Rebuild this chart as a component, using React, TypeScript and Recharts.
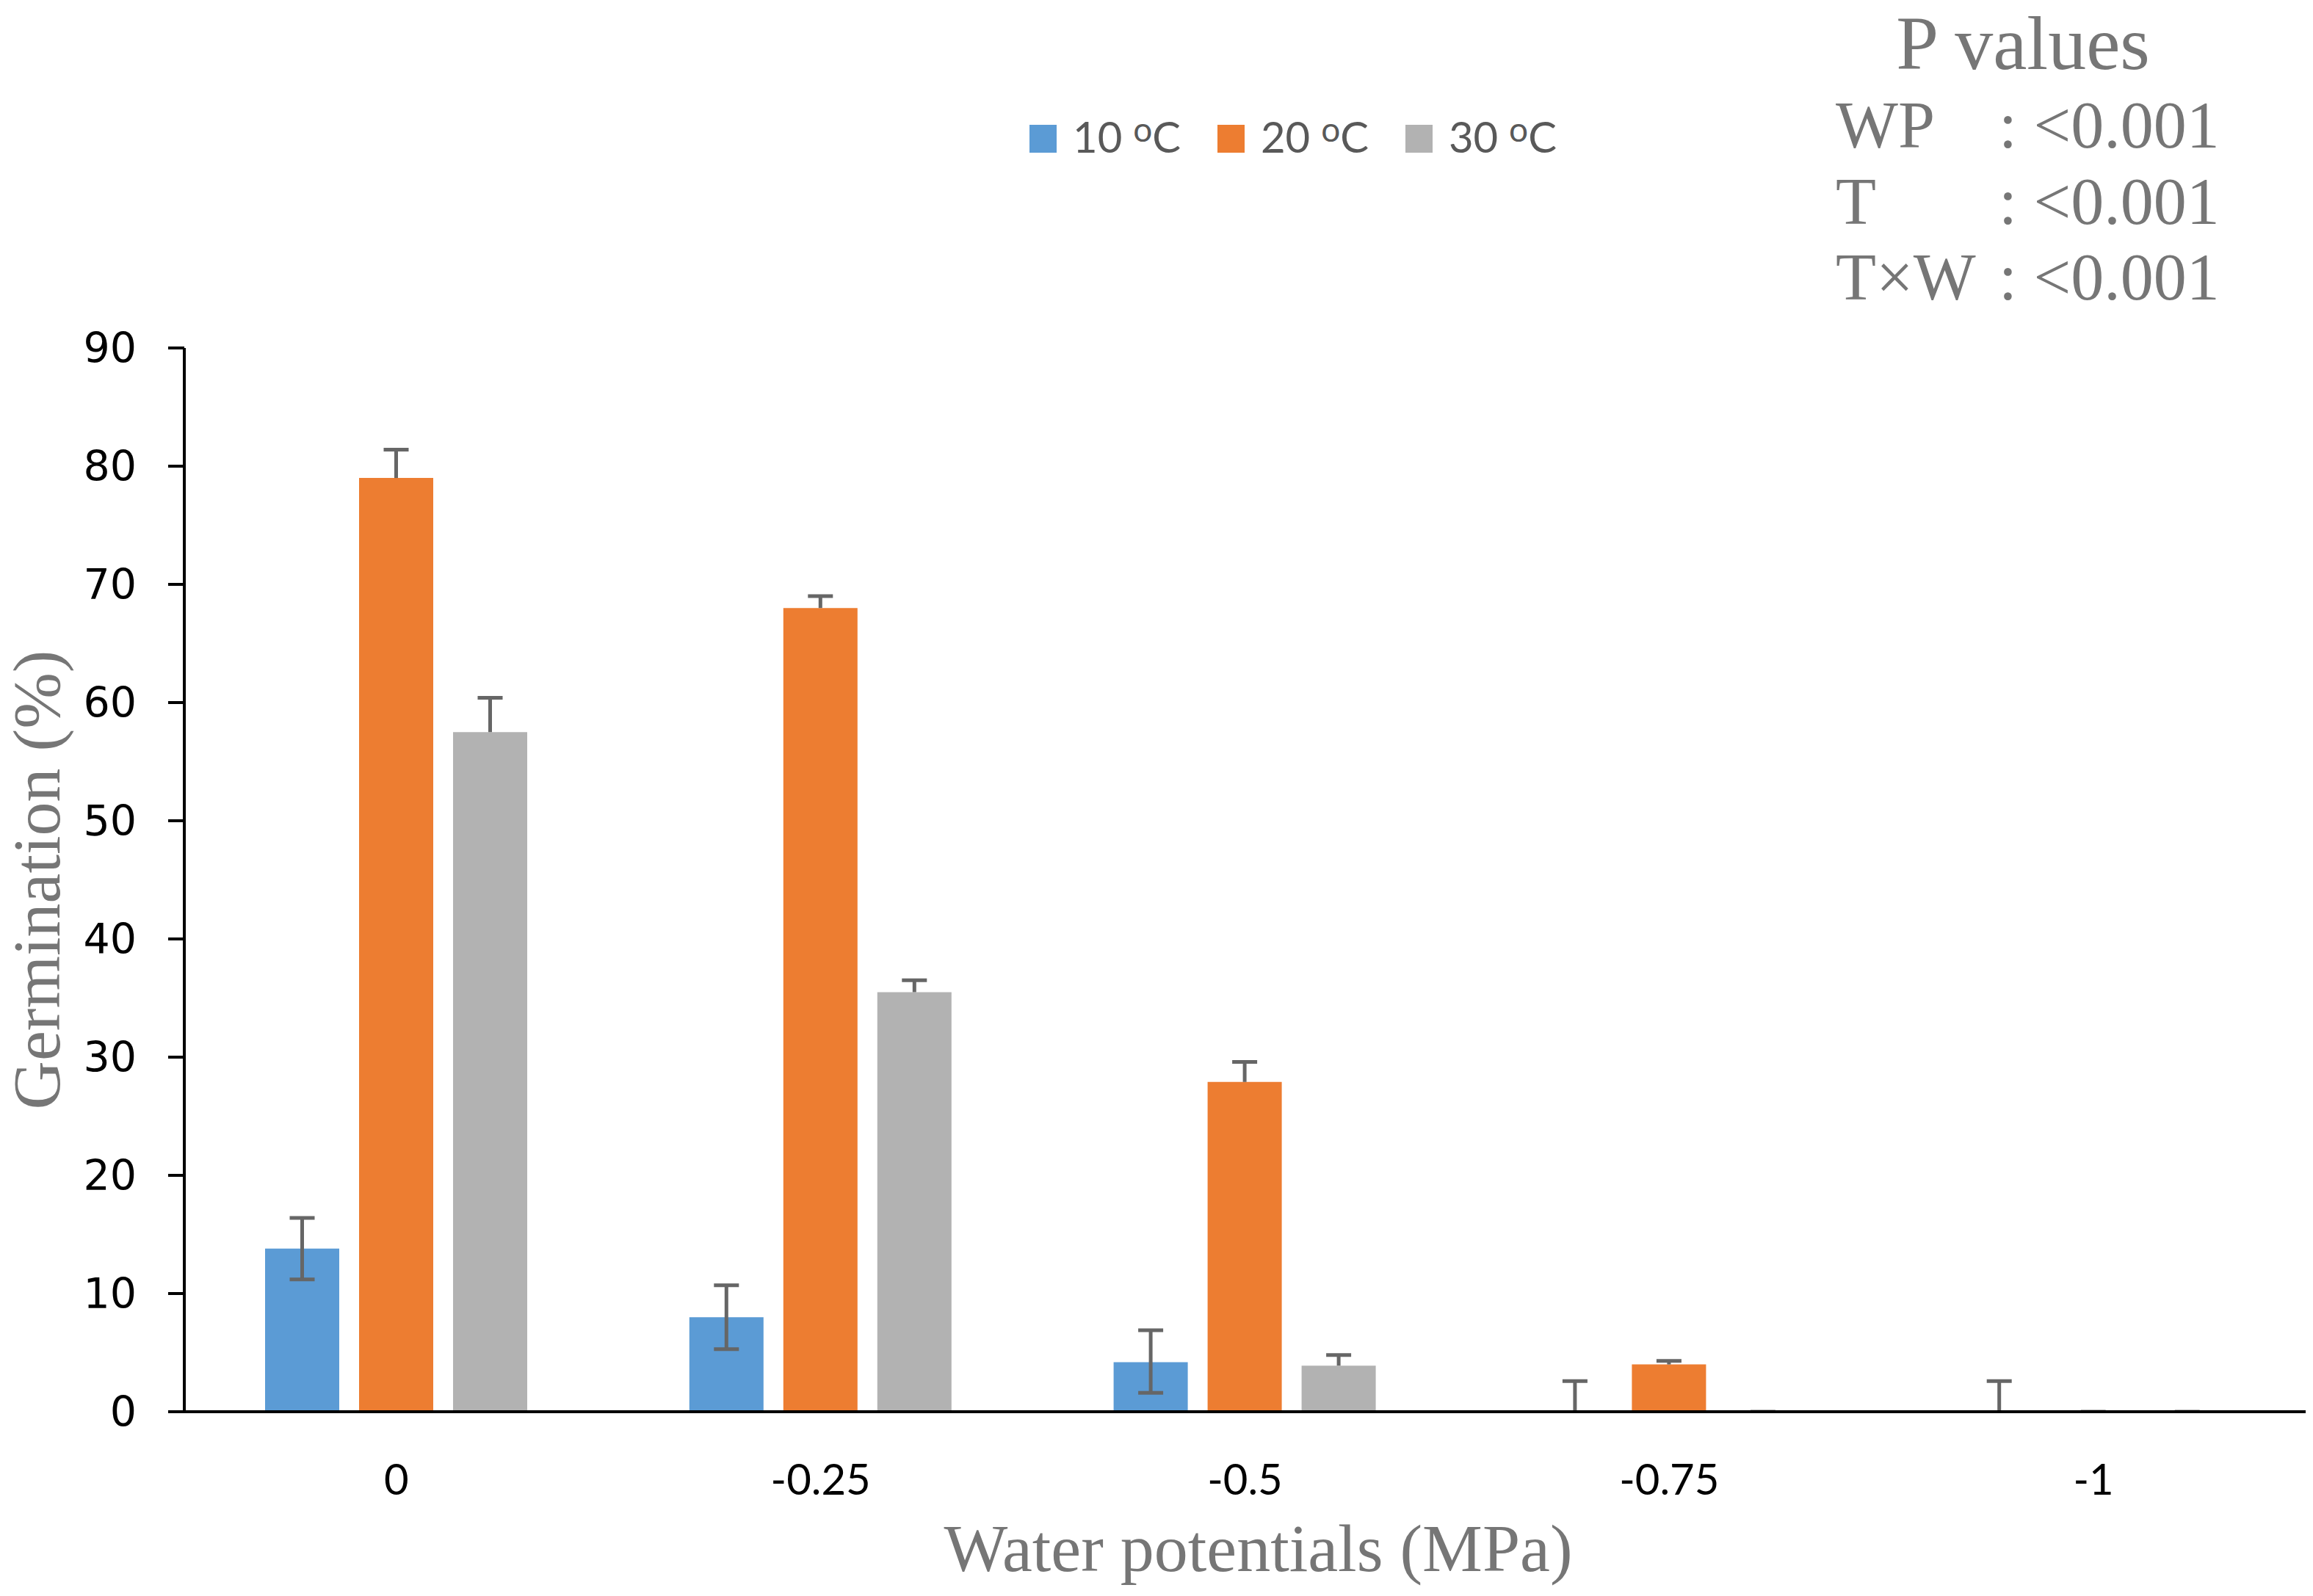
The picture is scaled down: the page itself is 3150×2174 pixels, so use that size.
import React from "react";
import { BarChart, Bar, XAxis, YAxis, Legend } from "recharts";

// water potential levels (MPa)
const potentials = ["0", "-0.25", "-0.5", "-0.75", "-1"];
const temps = ["10", "20", "30"];

// mean germination (%) per temperature
const germ10 = [13.8, 8.0, 4.2, 0, 0];
const germ20 = [79.0, 68.0, 27.9, 4.0, 0];
const germ30 = [57.5, 35.5, 3.9, 0, 0];

// error bars as [minus, plus] (only the visible parts)
const err10 = [[2.6, 2.6], [2.7, 2.7], [2.6, 2.7], [0, 2.6], [0, 2.6]];
const err20 = [[0, 2.4], [0, 1.0], [0, 1.7], [0, 0.3], [0, 0]];
const err30 = [[0, 2.9], [0, 1.0], [0, 0.9], [0, 0], [0, 0]];

const yTicks = [0, 10, 20, 30, 40, 50, 60, 70, 80, 90];

const pLabels = ["WP", "T", "T×W"];
const pValues = ["<0.001", "<0.001", "<0.001"];

const colors = ["#5B9BD5", "#ED7D31", "#B2B2B2"];
const errColor = "#666666";
const titleColor = "#767676";

const data = potentials.map((p, i) => ({
  wp: p,
  g10: germ10[i],
  g20: germ20[i],
  g30: germ30[i],
  m10: err10[i][0],
  p10: err10[i][1],
  m20: err20[i][0],
  p20: err20[i][1],
  m30: err30[i][0],
  p30: err30[i][1],
}));

// draws the error whisker on top of the stacked "plus" segment
const errShape = (minusKey: string, plusKey: string) => (props: any) => {
  const { x, y, width, height, payload } = props;
  const plus = payload[plusKey];
  const minus = payload[minusKey];
  const cx = x + width / 2;
  const unit = plus > 0 ? height / plus : 0;
  const yLow = y + height + minus * unit;
  const cap = 17;
  return (
    <g>
      <line x1={cx} x2={cx} y1={y} y2={yLow} stroke={errColor} strokeWidth={5} />
      <line x1={cx - cap} x2={cx + cap} y1={y} y2={y} stroke={errColor} strokeWidth={5} />
      {minus > 0 && (
        <line x1={cx - cap} x2={cx + cap} y1={yLow} y2={yLow} stroke={errColor} strokeWidth={5} />
      )}
    </g>
  );
};

const renderLegend = () => (
  <div
    style={{
      display: "flex",
      alignItems: "center",
      fontFamily: "Lato, sans-serif",
      fontSize: 58,
      lineHeight: "58px",
      color: "#595959",
      whiteSpace: "nowrap",
    }}
  >
    {temps.map((t, i) => (
      <div key={t} style={{ display: "flex", alignItems: "center", marginRight: 50 }}>
        <span style={{ width: 37, height: 38, background: colors[i], marginRight: 22, display: "inline-block" }} />
        <span>
          {t}{" "}
          <span style={{ fontSize: 46, position: "relative", top: -15 }}>o</span>C
        </span>
      </div>
    ))}
  </div>
);

const YTitle = (props: any) => {
  const { x, y, height } = props.viewBox;
  const cx = x + 50;
  const cy = y + height / 2;
  return (
    <text
      x={cx}
      y={cy}
      transform={`rotate(-90, ${cx}, ${cy})`}
      textAnchor="middle"
      dominantBaseline="central"
      fontFamily="Liberation Serif, serif"
      fontSize={92}
      fill={titleColor}
    >
      Germination (%)
    </text>
  );
};

const XTitle = (props: any) => {
  const { x, y, width } = props.viewBox;
  return (
    <text
      x={x + width / 2 + 18}
      y={y + 217}
      textAnchor="middle"
      fontFamily="Liberation Serif, serif"
      fontSize={92}
      fill={titleColor}
    >
      Water potentials (MPa)
    </text>
  );
};

export default function App() {
  return (
    <div style={{ position: "absolute", left: 0, top: 0, width: 3150, height: 2174, background: "#fff" }}>
      <BarChart
        width={3150}
        height={2174}
        data={data}
        margin={{ top: 474, right: 10, bottom: 0, left: 0 }}
        barSize={101}
        barGap={27}
      >
        <XAxis
          dataKey="wp"
          height={251}
          axisLine={{ stroke: "#000", strokeWidth: 4 }}
          tickLine={false}
          tickSize={0}
          tickMargin={72}
          tick={{ fontFamily: "Lato, sans-serif", fontSize: 58, fill: "#000" }}
          label={<XTitle />}
        />
        <YAxis
          width={251}
          domain={[0, 90]}
          ticks={yTicks}
          interval={0}
          allowDataOverflow
          axisLine={{ stroke: "#000", strokeWidth: 4 }}
          tickLine={{ stroke: "#000", strokeWidth: 4 }}
          tickSize={22}
          tickMargin={43}
          tick={{ fontFamily: "DejaVu Sans, sans-serif", fontSize: 57, fill: "#000" }}
          label={<YTitle />}
        />
        <Legend
          content={renderLegend}
          layout="horizontal"
          verticalAlign="middle"
          align="center"
          wrapperStyle={{ top: 157, left: 1402, width: 900 }}
        />
        <Bar dataKey="g10" stackId="t10" fill={colors[0]} isAnimationActive={false} />
        <Bar dataKey="p10" stackId="t10" shape={errShape("m10", "p10")} isAnimationActive={false} />
        <Bar dataKey="g20" stackId="t20" fill={colors[1]} isAnimationActive={false} />
        <Bar dataKey="p20" stackId="t20" shape={errShape("m20", "p20")} isAnimationActive={false} />
        <Bar dataKey="g30" stackId="t30" fill={colors[2]} isAnimationActive={false} />
        <Bar dataKey="p30" stackId="t30" shape={errShape("m30", "p30")} isAnimationActive={false} />
      </BarChart>
      <svg
        width={3150}
        height={2174}
        style={{ position: "absolute", left: 0, top: 0, pointerEvents: "none" }}
      >
        <g fontFamily="Liberation Serif, serif" fill={titleColor}>
          <text x={2755} y={94} fontSize={104} textAnchor="middle">
            P values
          </text>
          {pLabels.map((l, i) => (
            <g key={l} fontSize={90}>
              <text x={2500} y={201 + i * 103.5}>
                {l}
              </text>
              <text x={2722} y={201 + i * 103.5}>
                {": " + pValues[i]}
              </text>
            </g>
          ))}
        </g>
      </svg>
    </div>
  );
}
